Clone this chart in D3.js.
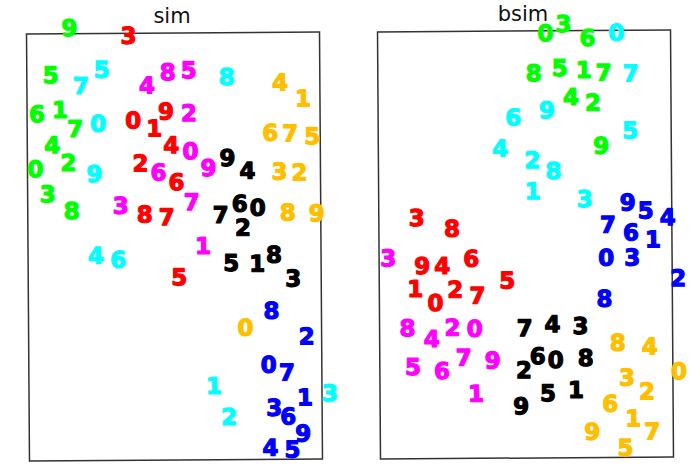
<!DOCTYPE html>
<html><head><meta charset="utf-8">
<script src="https://cdn.jsdelivr.net/npm/d3@7"></script>
<style>body{margin:0;background:#fff}</style>
</head><body><svg id="c" width="700" height="467"></svg>
<script>
const panelTitles = ["sim", "bsim"];
// cluster order: 0 green, 1 cyan, 2 magenta, 3 red, 4 black, 5 orange, 6 blue
const simLabels = [
  [9,5,6,1,7,4,2,0,3,8],
  [7,5,0,9,8,4,6,1,2,3],
  [4,8,5,2,0,6,9,3,7,1],
  [3,0,1,9,4,2,6,8,7,5],
  [9,4,7,6,0,2,5,1,8,3],
  [4,1,6,7,5,3,2,8,9,0],
  [8,2,0,7,1,3,6,9,4,5]
];
const simX = [
  [43,24,10,33,48,25,41,8,20,44],
  [54,75,71,67,200,68,90,185,200,301],
  [120,141,162,162,163,131,181,93,164,175],
  [102,106,127,139,144,113,149,117,139,151],
  [200,220,193,212,230,215,203,229,246,265],
  [253,276,243,263,285,252,272,260,289,217],
  [243,278,240,258,276,245,259,274,241,263]
];
const simY = [
  [433,386,347,351,332,316,298,292,267,250],
  [375,391,337,287,383,205,201,74,43,66],
  [375,388,390,347,309,288,292,255,258,214],
  [425,340,332,349,315,297,278,246,243,183],
  [302,289,245,256,252,232,197,196,205,181],
  [377,361,327,326,323,288,287,247,246,132],
  [149,123,95,87,62,52,43,26,12,10]
];
const bsimLabels = [
  [0,3,6,8,5,1,7,4,2,9],
  [0,7,6,9,5,4,2,8,1,3],
  [3,8,4,2,0,5,6,7,9,1],
  [3,8,9,4,6,1,0,2,7,5],
  [7,4,3,6,0,8,2,5,1,9],
  [8,4,0,3,2,6,1,7,9,5],
  [9,5,4,7,6,1,0,3,2,8]
];
const bsimX = [
  [168,186,210,156,182,206,226,193,215,223],
  [239,253,135,169,252,122,154,175,154,206],
  [9,28,52,73,95,33,62,84,113,96],
  [38,73,43,63,92,36,56,76,98,128],
  [145,173,201,158,176,206,144,168,196,141],
  [238,270,299,247,267,230,253,272,212,245],
  [249,267,289,229,252,274,227,253,299,225]
];
const bsimY = [
  [425,434,420,385,390,388,385,361,355,312],
  [425,384,341,348,327,310,298,287,267,259],
  [201,131,120,131,130,92,88,101,98,65],
  [241,230,193,193,200,170,156,169,163,178],
  [130,134,132,102,98,100,88,65,68,52],
  [115,111,86,80,66,54,39,26,26,10],
  [255,247,240,233,225,218,200,200,179,159]
];

const palette = ["#00ff00","#00ffff","#ff00ff","#ff0000","#000000","#ffbf00","#0000ff"];
const svg = d3.select("#c");

const panels = [
  {title: panelTitles[0], labels: simLabels, xs: simX, ys: simY, x0: 28, y0: 33, titleX: 172, titleY: 15},
  {title: panelTitles[1], labels: bsimLabels, xs: bsimX, ys: bsimY, x0: 379, y0: 31, titleX: 523, titleY: 13}
];
const W = 293, H = 427;

panels.forEach(p => {
  const x = d3.scaleLinear().domain([0, W]).range([p.x0, p.x0 + W]);
  const y = d3.scaleLinear().domain([0, H]).range([p.y0 + H, p.y0]);
  const cx = p.x0 + W/2, cy = p.y0 + H/2;
  const g = svg.append("g").attr("transform", `rotate(-0.4 ${cx} ${cy})`);
  g.append("rect").attr("x", x(0)).attr("y", y(H)).attr("width", W).attr("height", H)
    .attr("fill", "none").attr("stroke", "#333").attr("stroke-width", 1.5);
  const pts = [];
  p.labels.forEach((arr, ci) => arr.forEach((lab, i) => pts.push({lab, ci, vx: p.xs[ci][i], vy: p.ys[ci][i]})));
  g.selectAll("text.d").data(pts).enter().append("text").attr("class","d")
    .attr("x", d => x(d.vx)).attr("y", d => y(d.vy)).attr("dy", "0.36em")
    .attr("text-anchor", "middle")
    .attr("font-family", "DejaVu Sans").attr("font-weight", "bold").attr("font-size", 23)
    .attr("fill", d => palette[d.ci]).attr("stroke", d => palette[d.ci]).attr("stroke-width", 1.2)
    .attr("stroke-linejoin", "round")
    .text(d => d.lab);
  svg.append("text").attr("x", p.titleX).attr("y", p.titleY).attr("dy", "0.36em")
    .attr("text-anchor", "middle").attr("font-family", "DejaVu Sans").attr("font-size", 21)
    .attr("fill", "#111").text(p.title);
});
</script></body></html>
